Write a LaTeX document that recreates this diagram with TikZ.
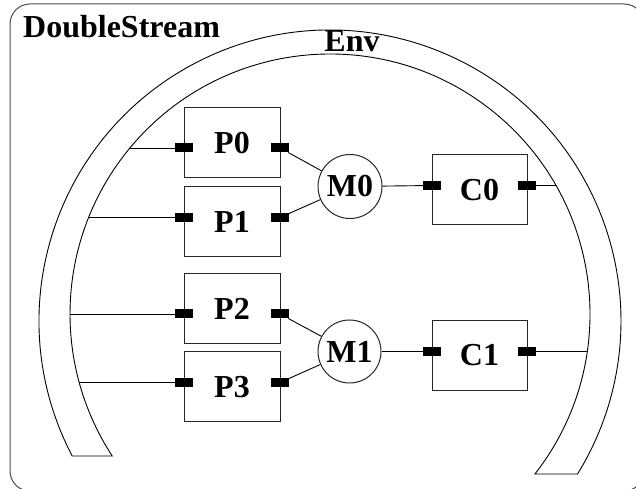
\documentclass[tikz,border=0pt]{standalone}
\usepackage{fontspec}
\setmainfont{Liberation Serif}
\begin{document}
\begin{tikzpicture}[x=1pt,y=1pt,
  lbl/.style={font=\fontsize{32}{36}\selectfont\bfseries, inner sep=0pt},
  box/.style={draw=black!85, line width=1pt, minimum width=96pt, minimum height=70pt, inner sep=0pt, font=\fontsize{32}{36}\selectfont\bfseries},
  mnode/.style={circle, draw=black!85, line width=1pt, minimum size=64pt, inner sep=0pt, font=\fontsize{32}{36}\selectfont\bfseries},
  port/.style={fill=black, minimum width=18pt, minimum height=9pt, inner sep=0pt, outer sep=0pt},
  wire/.style={line width=0.9pt}]
\useasboundingbox (0,0) rectangle (636,489);
\clip (0,0) rectangle (636,489);
% frame
\draw[black!70, line width=1pt, rounded corners=20pt] (10,485) rectangle (644,-2);
\node[lbl, anchor=base west] (ds) at (23,451) {DoubleStream};
% environment arc
\draw[line width=0.9pt] ([shift={(330,168)}]207.64:291) arc[start angle=207.64, end angle=-31.72, radius=291]
  -- ([shift={(330,175)}]-37.98:260) arc[start angle=-37.98, end angle=213.11, radius=260] -- cycle;
\node[lbl, anchor=base] (env) at (352,437) {Env};
% boxes
\node[box] (P0) at (232,346) {P0};
\node[box] (P1) at (232,267) {P1};
\node[box] (P2) at (232,180.5) {P2};
\node[box] (P3) at (232,102) {P3};
\node[box, minimum width=95pt] (C0) at (479.5,299) {C0};
\node[box, minimum width=95pt] (C1) at (479.5,133.5) {C1};
\node[mnode] (M0) at (350,302.5) {M0};
\node[mnode, minimum size=63pt] (M1) at (349.5,137.5) {M1};
% ports
\node[port] (p0l) at (183.5,341) {};
\node[port] (p0r) at (280,341) {};
\node[port] (p1l) at (183.5,271.5) {};
\node[port] (p1r) at (280,271.5) {};
\node[port] (p2l) at (183.5,175) {};
\node[port] (p2r) at (280,175) {};
\node[port] (p3l) at (183.5,106.5) {};
\node[port] (p3r) at (280,106.5) {};
\node[port] (c0l) at (432,303.5) {};
\node[port] (c0r) at (527,303.5) {};
\node[port] (c1l) at (432,137.5) {};
\node[port] (c1r) at (527,137.5) {};
% arc attachment points
\coordinate (a0) at (129.9,341);
\coordinate (a1) at (88.6,271.5);
\coordinate (a2) at (70,175);
\coordinate (a3) at (79.2,106.5);
\coordinate (a4) at (556.0,303.5);
\coordinate (a5) at (587.3,137.5);
% wires
\draw[wire] (a0) -- (p0l);
\draw[wire] (a1) -- (p1l);
\draw[wire] (a2) -- (p2l);
\draw[wire] (a3) -- (p3l);
\draw[wire] (p0r) -- (M0);
\draw[wire] (p1r) -- (M0);
\draw[wire] (p2r) -- (M1);
\draw[wire] (p3r) -- (M1);
\draw[wire] (M0) -- (c0l);
\draw[wire] (M1) -- (c1l);
\draw[wire] (c0r) -- (a4);
\draw[wire] (c1r) -- (a5);
\end{tikzpicture}
\end{document}
